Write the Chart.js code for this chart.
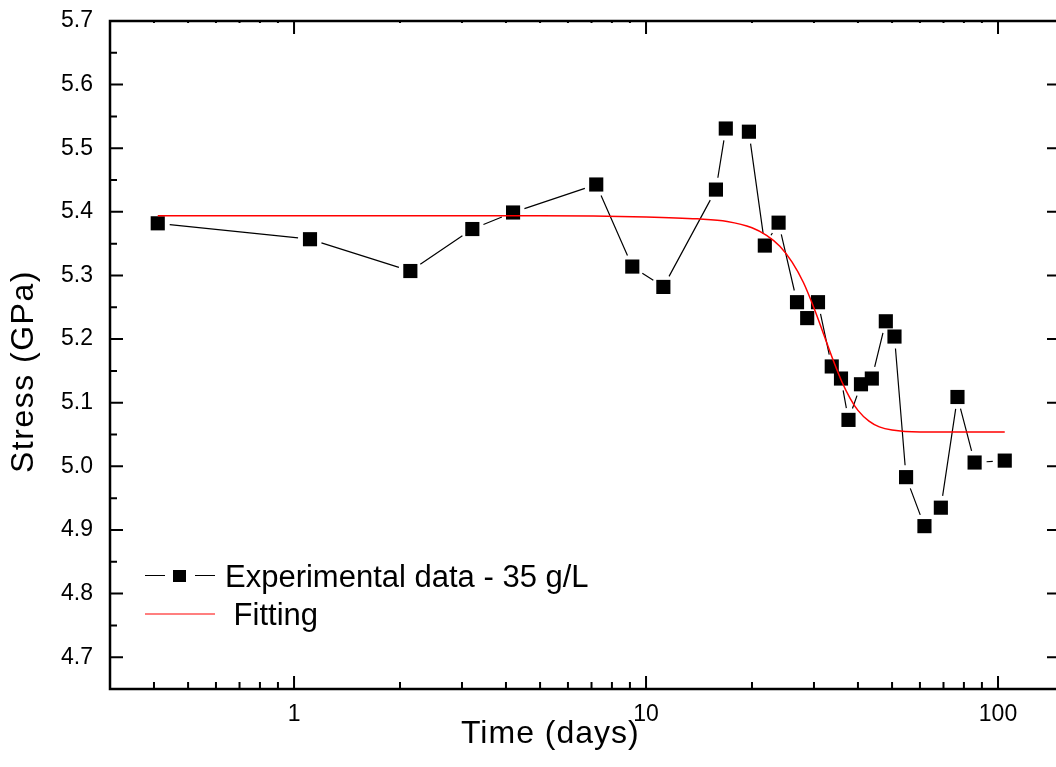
<!DOCTYPE html>
<html>
<head>
<meta charset="utf-8">
<title>Stress vs time</title>
<script src="https://cdn.jsdelivr.net/npm/chart.js@4"></script>
<style>
  html, body { margin: 0; padding: 0; background: #fff; overflow: hidden; }
  #wrap { position: absolute; left: 0; top: 0; width: 1070px; height: 767px; }
</style>
</head>
<body>
<div id="wrap"><canvas id="stress-chart"></canvas></div>
<script>
// --- values ---
const timeDays = [0.41, 1.11, 2.14, 3.21, 4.19, 7.22, 9.14, 11.2, 15.8, 16.85,
    19.6, 21.75, 23.8, 26.85, 28.7, 30.8, 33.7, 35.8, 37.6, 40.8,
    43.8, 48.0, 50.8, 54.8, 61.8, 68.8, 76.7, 85.8, 104.5];
const stressGPa = [5.382, 5.357, 5.307, 5.373, 5.399, 5.443, 5.314, 5.282, 5.435, 5.531,
    5.526, 5.347, 5.383, 5.258, 5.233, 5.258, 5.157, 5.138, 5.073, 5.129,
    5.138, 5.228, 5.204, 4.983, 4.906, 4.935, 5.109, 5.006, 5.009];

// red fitting curve, sampled along the drawn line
const fitTime = [0.41, 1, 5, 10, 14, 17, 20, 22, 24, 26, 28, 30, 32, 34, 36, 38, 40, 43, 46, 50, 60, 80, 104.5];
const fitStress = [5.394, 5.394, 5.394, 5.392, 5.389, 5.385, 5.375, 5.363, 5.346, 5.321, 5.289, 5.249,
    5.207, 5.167, 5.133, 5.107, 5.088, 5.071, 5.062, 5.057, 5.054, 5.054, 5.054];

const xTickValues = [1, 10, 100];
const yTickValues = [4.7, 4.8, 4.9, 5.0, 5.1, 5.2, 5.3, 5.4, 5.5, 5.6, 5.7];
const seriesLabels = ["Experimental data - 35 g/L", " Fitting"];
const xTitle = "Time (days)";
const yTitle = "Stress (GPa)";

const FONT = "Arial, 'Liberation Sans', sans-serif";

// thin black line between markers, with small gaps around each marker (Origin style)
const dataLinePlugin = {
    id: "dataLine",
    beforeDatasetDraw(chart, args) {
        if (args.index !== 0) return;
        const pts = args.meta.data;
        const ctx = chart.ctx;
        const gap = 12;
        ctx.save();
        ctx.strokeStyle = "#000";
        ctx.lineWidth = 1.2;
        ctx.beginPath();
        for (let i = 1; i < pts.length; i++) {
            const a = pts[i - 1], b = pts[i];
            const dx = b.x - a.x, dy = b.y - a.y;
            const len = Math.hypot(dx, dy);
            if (len <= 2 * gap + 1) continue;
            const ux = dx / len, uy = dy / len;
            ctx.moveTo(a.x + ux * gap, a.y + uy * gap);
            ctx.lineTo(b.x - ux * gap, b.y - uy * gap);
        }
        ctx.stroke();
        ctx.restore();
    }
};

// box frame with inward ticks on all four sides
const framePlugin = {
    id: "frame",
    afterDraw(chart) {
        const { ctx, chartArea: a, scales: { x, y } } = chart;
        ctx.save();
        ctx.strokeStyle = "#000";
        ctx.lineWidth = 2.5;
        ctx.strokeRect(a.left, a.top, a.right - a.left, a.bottom - a.top);

        ctx.lineWidth = 2;
        ctx.beginPath();
        yTickValues.forEach(v => {
            const p = y.getPixelForValue(v);
            ctx.moveTo(a.left, p); ctx.lineTo(a.left + 13, p);
            ctx.moveTo(a.right, p); ctx.lineTo(a.right - 13, p);
            const m = y.getPixelForValue(v - 0.05);
            ctx.moveTo(a.left, m); ctx.lineTo(a.left + 7, m);
        });
        xTickValues.forEach(v => {
            const p = x.getPixelForValue(v);
            ctx.moveTo(p, a.bottom); ctx.lineTo(p, a.bottom - 13);
            ctx.moveTo(p, a.top); ctx.lineTo(p, a.top + 13);
        });
        [0.1, 1, 10, 100].forEach(d => {
            for (let k = 2; k <= 9; k++) {
                const v = k * d;
                if (v < x.min || v > x.max) continue;
                const p = x.getPixelForValue(v);
                ctx.moveTo(p, a.bottom); ctx.lineTo(p, a.bottom - 7);
                ctx.moveTo(p, a.top); ctx.lineTo(p, a.top + 2);
            }
        });
        ctx.stroke();
        ctx.restore();
    }
};

// axis titles and the legend box
const textPlugin = {
    id: "texts",
    afterDraw(chart) {
        const ctx = chart.ctx;
        ctx.save();
        ctx.fillStyle = "#000";
        ctx.textBaseline = "alphabetic";
        ctx.textAlign = "left";

        ctx.font = "32px " + FONT;
        ctx.letterSpacing = "1px";
        ctx.fillText(xTitle, 461, 743);

        ctx.save();
        ctx.letterSpacing = "1.5px";
        ctx.translate(33, 473);
        ctx.rotate(-Math.PI / 2);
        ctx.fillText(yTitle, 0, 0);
        ctx.restore();
        ctx.letterSpacing = "0px";

        // legend entry 1: line - square - line
        ctx.strokeStyle = "#000";
        ctx.lineWidth = 1.2;
        ctx.beginPath();
        ctx.moveTo(145, 575.5); ctx.lineTo(165, 575.5);
        ctx.moveTo(195, 575.5); ctx.lineTo(215, 575.5);
        ctx.stroke();
        ctx.fillRect(173, 570, 13, 12);

        // legend entry 2: red line
        ctx.strokeStyle = "#ff0000";
        ctx.beginPath();
        ctx.moveTo(145, 614); ctx.lineTo(215, 614);
        ctx.stroke();

        ctx.font = "31px " + FONT;
        ctx.fillText(seriesLabels[0], 225, 587);
        ctx.fillText(seriesLabels[1], 225, 625);
        ctx.restore();
    }
};

const experimentalPoints = timeDays.map((t, i) => ({ x: t, y: stressGPa[i] }));
const fittingPoints = fitTime.map((t, i) => ({ x: t, y: fitStress[i] }));

new Chart(document.getElementById("stress-chart"), {
    type: "line",
    data: {
        datasets: [
            {
                label: seriesLabels[0],
                data: experimentalPoints,
                showLine: false,
                pointStyle: "rect",
                pointRadius: 10,
                pointBackgroundColor: "#000",
                pointBorderWidth: 0,
                order: 1
            },
            {
                label: seriesLabels[1],
                data: fittingPoints,
                borderColor: "#ff0000",
                borderWidth: 1.5,
                pointRadius: 0,
                cubicInterpolationMode: "monotone",
                fill: false,
                order: 0
            }
        ]
    },
    options: {
        responsive: true,
        maintainAspectRatio: false,
        animation: false,
        events: [],
        layout: { padding: { top: 21, right: 10, left: 0, bottom: 0 } },
        plugins: {
            legend: { display: false },
            tooltip: { enabled: false }
        },
        scales: {
            x: {
                type: "logarithmic",
                min: 0.3,
                max: 150,
                grid: { display: false, drawTicks: false },
                border: { display: false },
                afterBuildTicks: scale => { scale.ticks = xTickValues.map(v => ({ value: v })); },
                afterFit: scale => {
                    scale.height = 78;
                    scale.paddingLeft = 0;
                    scale.paddingRight = 0;
                },
                ticks: {
                    color: "#000",
                    padding: 12,
                    maxRotation: 0,
                    font: { family: FONT, size: 23 },
                    callback: v => String(v)
                }
            },
            y: {
                type: "linear",
                min: 4.65,
                max: 5.7,
                grid: { display: false, drawTicks: false },
                border: { display: false },
                afterBuildTicks: scale => { scale.ticks = yTickValues.map(v => ({ value: v })); },
                afterFit: scale => {
                    scale.width = 110;
                    scale.paddingTop = 0;
                    scale.paddingBottom = 0;
                },
                ticks: {
                    color: "#000",
                    padding: 17,
                    font: { family: FONT, size: 23 },
                    callback: v => v.toFixed(1)
                }
            }
        }
    },
    plugins: [dataLinePlugin, framePlugin, textPlugin]
});
</script>
</body>
</html>
